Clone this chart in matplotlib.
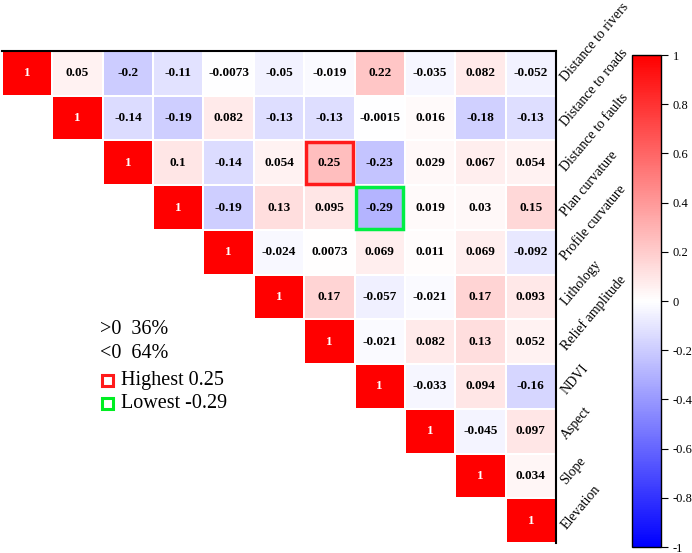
import numpy as np
import matplotlib
matplotlib.use("Agg")
import matplotlib.pyplot as plt
from matplotlib.patches import Rectangle

labels = ["Distance to rivers", "Distance to roads", "Distance to faults",
          "Plan curvature", "Profile curvature", "Lithology", "Relief amplitude",
          "NDVI", "Aspect", "Slope", "Elevation"]

row0 = [1, 0.05, -0.2, -0.11, -0.0073, -0.05, -0.019, 0.22, -0.035, 0.082, -0.052]
row1 = [1, -0.14, -0.19, 0.082, -0.13, -0.13, -0.0015, 0.016, -0.18, -0.13]
row2 = [1, 0.1, -0.14, 0.054, 0.25, -0.23, 0.029, 0.067, 0.054]
row3 = [1, -0.19, 0.13, 0.095, -0.29, 0.019, 0.03, 0.15]
row4 = [1, -0.024, 0.0073, 0.069, 0.011, 0.069, -0.092]
row5 = [1, 0.17, -0.057, -0.021, 0.17, 0.093]
row6 = [1, -0.021, 0.082, 0.13, 0.052]
row7 = [1, -0.033, 0.094, -0.16]
row8 = [1, -0.045, 0.097]
row9 = [1, 0.034]
row10 = [1]
rows = [row0, row1, row2, row3, row4, row5, row6, row7, row8, row9, row10]

cbar_ticks = [1, 0.8, 0.6, 0.4, 0.2, 0, -0.2, -0.4, -0.6, -0.8, -1]
cbar_labels = ["1", "0.8", "0.6", "0.4", "0.2", "0", "-0.2", "-0.4", "-0.6", "-0.8", "-1"]

legend_lines = [">0  36%", "<0  64%"]
highest_text = "Highest 0.25"
lowest_text = "Lowest -0.29"
highest_cell = (2, 6)
lowest_cell = (3, 7)

n = len(labels)
M = np.full((n, n), np.nan)
for i, r in enumerate(rows):
    for k, v in enumerate(r):
        M[i, i + k] = v
Mm = np.ma.masked_invalid(M)

plt.rcParams['font.family'] = ['Liberation Serif', 'DejaVu Serif']

W, H = 692, 553
fig = plt.figure(figsize=(W / 100, H / 100), dpi=100)

def fx(px):
    return px / W

def fy(py):
    return 1 - py / H

ax = fig.add_axes([fx(2), fy(543), fx(556) - fx(2), fy(51) - fy(543)])
cmap = plt.get_cmap('bwr')
mesh = ax.pcolormesh(np.arange(n + 1), np.arange(n + 1), Mm, cmap=cmap, vmin=-1, vmax=1,
                     edgecolors='white', linewidth=1.2)
ax.set_xlim(0, n)
ax.set_ylim(n, 0)
ax.set_xticks([])
ax.set_yticks([])
for s in ['left', 'bottom']:
    ax.spines[s].set_visible(False)
for s in ['top', 'right']:
    ax.spines[s].set_linewidth(1.5)
    ax.spines[s].set_color('black')

for i in range(n):
    for j in range(i, n):
        v = M[i, j]
        txt = "1" if v == 1 else ("%g" % v)
        color = 'white' if v == 1 else 'black'
        ax.text(j + 0.5, i + 0.5, txt, ha='center', va='center', fontsize=9.5,
                fontweight='bold', color=color)

for (r, c), col in [(highest_cell, '#ff1a1a'), (lowest_cell, '#00ee44')]:
    ax.add_patch(Rectangle((c + 0.03, r + 0.03), 0.94, 0.94, fill=False,
                           edgecolor=col, linewidth=2.5, zorder=5))

for i, lab in enumerate(labels):
    ax.text(n + 0.15, i + 0.65, lab, rotation=50, rotation_mode='anchor',
            ha='left', va='center', fontsize=10, clip_on=False)

cax = fig.add_axes([fx(632), fy(547), fx(661) - fx(632), fy(55) - fy(547)])
cb = fig.colorbar(mesh, cax=cax, ticks=cbar_ticks)
cb.ax.set_yticklabels(cbar_labels)
cb.ax.tick_params(labelsize=9, length=5, width=0.8)
cb.outline.set_linewidth(1.0)

fig.text(fx(100), fy(330), legend_lines[0], fontsize=14.5, va='center', ha='left')
fig.text(fx(100), fy(354), legend_lines[1], fontsize=14.5, va='center', ha='left')
fig.text(fx(121), fy(380), highest_text, fontsize=14.5, va='center', ha='left')
fig.text(fx(121), fy(403), lowest_text, fontsize=14.5, va='center', ha='left')
fig.patches.append(Rectangle((fx(102), fy(386)), fx(11), 11 / H, fill=False,
                             edgecolor='#ff1a1a', linewidth=2.2, transform=fig.transFigure))
fig.patches.append(Rectangle((fx(102), fy(409)), fx(11), 11 / H, fill=False,
                             edgecolor='#00ee22', linewidth=2.2, transform=fig.transFigure))

fig.savefig("out.png", dpi=100)
